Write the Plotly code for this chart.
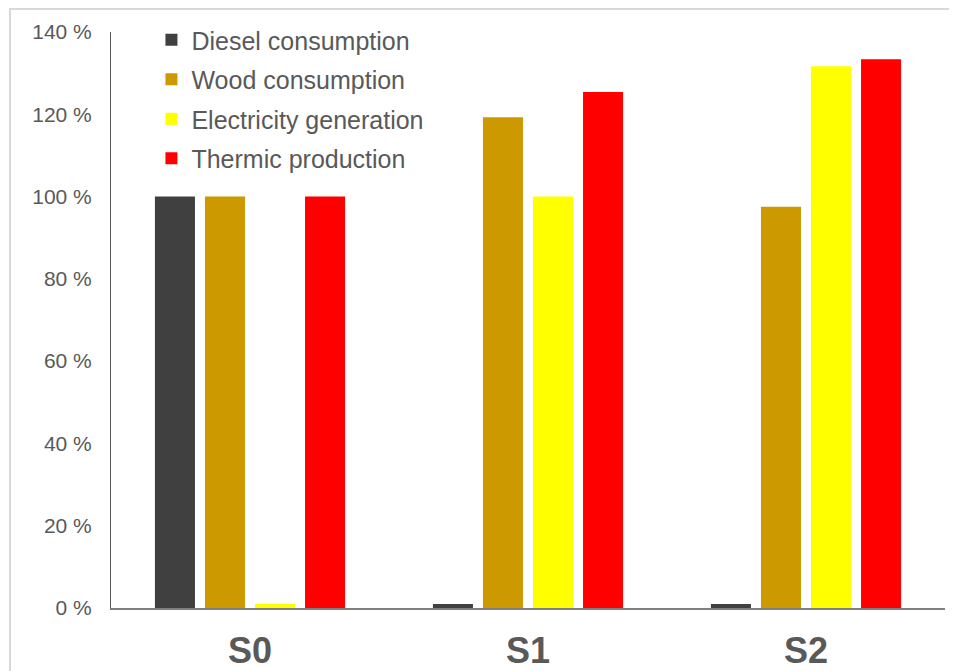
import plotly.graph_objects as go

scenarios = ["S0", "S1", "S2"]
series_names = ["Diesel consumption", "Wood consumption", "Electricity generation", "Thermic production"]
diesel = [100, 1, 1]
wood = [100, 119.3, 97.5]
electricity = [1, 100, 131.7]
thermic = [100, 125.4, 133.4]
y_ticks = [0, 20, 40, 60, 80, 100, 120, 140]
y_tick_labels = [f"{v} %" for v in y_ticks]

colors = ["#404040", "#CC9900", "#FFFF00", "#FF0000"]
values = [diesel, wood, electricity, thermic]

fig = go.Figure()
for name, vals, col in zip(series_names, values, colors):
    fig.add_trace(go.Bar(
        x=scenarios, y=vals, name=name, legendgroup=name,
        marker=dict(color=col, line=dict(width=0)),
    ))

# page body has an 8px margin, so the figure is a bit smaller than the window
fig.update_layout(
    width=949, height=663,
    barmode="group", bargap=0.28, bargroupgap=0.2,
    plot_bgcolor="white", paper_bgcolor="white",
    margin=dict(l=103, r=12, t=24, b=63, autoexpand=False),
    font=dict(family="Liberation Sans, Arial, sans-serif", color="#595959"),
    legend=dict(
        x=0.0485, y=0.9864, xanchor="left", yanchor="top", yref="container",
        font=dict(size=25, color="#595959"),
        tracegroupgap=4, bgcolor="rgba(0,0,0,0)",
        itemwidth=30,
    ),
    showlegend=True,
)
fig.update_yaxes(
    range=[0, 140], tickvals=y_ticks, ticktext=y_tick_labels,
    showgrid=False, zeroline=False, automargin=False,
    showline=True, linecolor="#595959", linewidth=1,
    tickfont=dict(size=21, color="#595959"),
    ticklabelstandoff=14,
)
fig.update_xaxes(
    showgrid=False, showline=True, linecolor="#7f7f7f", linewidth=1.5,
    automargin=False,
    tickfont=dict(size=36, color="#595959", family="Liberation Sans, Arial", weight="bold"),
    ticklabelstandoff=10,
)
# light grey chart border
fig.add_shape(type="rect", xref="paper", yref="paper",
              x0=-101 / 834, x1=1.1, y0=-0.2, y1=1 + 23 / 576,
              line=dict(color="#d9d9d9", width=2), layer="below")

fig.write_html("out.html")
